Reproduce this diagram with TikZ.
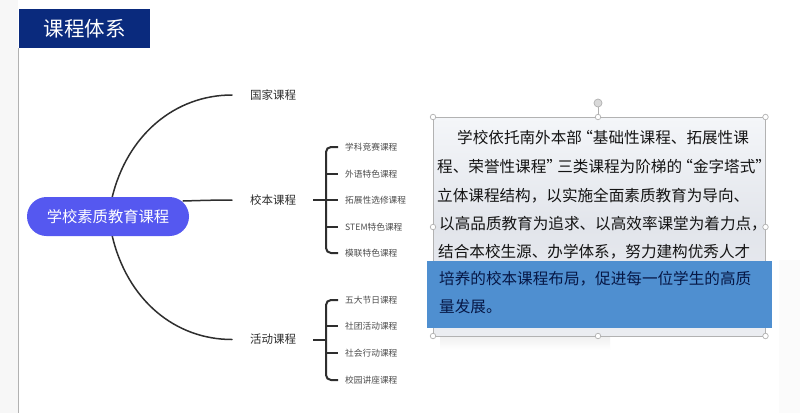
\documentclass[tikz,border=0pt]{standalone}
\usepackage{fontspec}
\setmainfont{Noto Sans CJK SC}
\usetikzlibrary{shapes.misc}
\definecolor{navy}{HTML}{0A2A7D}
\definecolor{pillc}{HTML}{5558F0}
\definecolor{inkc}{HTML}{2E2E2E}
\definecolor{boxblue}{HTML}{4F8FD0}
\definecolor{hand}{HTML}{B0B0B0}
\definecolor{boxtop}{HTML}{F4F6F9}
\definecolor{boxmid}{HTML}{E2E5EB}
\definecolor{boxbot}{HTML}{EBEDF1}
\newcommand{\lqm}{\hspace{-.3em}“}
\newcommand{\rqm}{”\hspace{-.3em}}
\tikzset{
  x=1pt,y=-1pt,
  lab/.style={inner sep=0pt,anchor=west,text=inkc,font=\fontsize{11.5}{12}\selectfont,text height=9.5pt,text depth=1.5pt},
  sub/.style={inner sep=0pt,anchor=west,text=inkc!85,font=\fontsize{8.7}{10}\selectfont,text height=7.2pt,text depth=1.2pt},
  para/.style={inner sep=0pt,anchor=west,text=black!92,font=\fontsize{15.6}{17}\selectfont,text height=13.5pt,text depth=2pt},
  parab/.style={para,text=black!45!navy},
  branch/.style={draw=inkc,line width=1.5pt,line cap=round},
  brack/.style={draw=inkc,line width=2pt,rounded corners=5pt},
  rh/.style={circle,draw=hand,fill=white,line width=.7pt,inner sep=0pt,minimum size=5.5pt},
}
\begin{document}
\begin{tikzpicture}
\useasboundingbox (0,0) rectangle (800,413);
\fill[white] (0,0) rectangle (800,413);
\fill[black!3] (0,0) rectangle (18,413);
\fill[black!1.5] (779,260) rectangle (800,413);
\draw[black!30,line width=.7pt] (18.5,48) -- (18.5,413);
% title
\node[fill=navy,minimum width=131pt,minimum height=39pt,inner sep=0pt,text=white,font=\fontsize{20.5}{22}\selectfont] (title) at (84.5,28.5) {\raisebox{1pt}{课程体系}};
% labels
\node[lab] (gj) at (250,95) {国家课程};
\node[lab] (xb) at (250,200) {校本课程};
\node[lab] (hd) at (250,339.5) {活动课程};
\node[sub] (a1) at (345,147) {学科竞赛课程};
\node[sub] (a2) at (345,174) {外语特色课程};
\node[sub] (a3) at (345,200) {拓展性选修课程};
\node[sub] (a4) at (345,227) {STEM特色课程};
\node[sub] (a5) at (345,253) {模联特色课程};
\node[sub] (b1) at (345,300) {五大节日课程};
\node[sub] (b2) at (345,326) {社团活动课程};
\node[sub] (b3) at (345,353) {社会行动课程};
\node[sub] (b4) at (345,380) {校园讲座课程};
\coordinate (ha) at (326,200);
\coordinate (hb) at (326,339.5);
% main branches
\coordinate (ptop) at (112,198);
\coordinate (pbot) at (112,235);
\coordinate (pmid) at (183,201);
\draw[branch,shorten >=18pt] (ptop) .. controls (127,135) and (175,95) .. (gj.west);
\draw[branch,shorten >=18pt] (pmid) .. controls (200,200.5) and (215,200) .. (xb.west);
\draw[branch,shorten >=18pt] (pbot) .. controls (127,300) and (175,339.5) .. (hd.west);
% pill
\node[rounded rectangle,fill=pillc,minimum width=162pt,minimum height=39pt,inner sep=0pt,text=white,font=\fontsize{15.3}{17}\selectfont] (pill) at (108,216.5) {学校素质教育课程};
% brackets
\draw[brack,line cap=butt,shorten <=17pt] (xb.east) -- (ha);
\draw[brack,line cap=butt,shorten <=17pt] (hd.east) -- (hb);
\draw[brack,shorten <=7pt,shorten >=7pt] (a1.west) -- (ha|-a1.west) -- (ha|-a5.west) -- (a5.west);
\draw[brack,shorten >=7pt] (ha|-a2.west) -- (a2.west);
\draw[brack,shorten >=7pt] (ha) -- (a3.west);
\draw[brack,shorten >=7pt] (ha|-a4.west) -- (a4.west);
\draw[brack,shorten <=7pt,shorten >=7pt] (b1.west) -- (hb|-b1.west) -- (hb|-b4.west) -- (b4.west);
\draw[brack,shorten >=7pt] (hb|-b2.west) -- (b2.west);
\draw[brack,shorten >=7pt] (hb|-b3.west) -- (b3.west);
% soft shadow under text box
\shade[top color=black!6,bottom color=white] (440,336) rectangle (610,350);
% text box
\shade[top color=boxtop,bottom color=boxbot,middle color=boxmid,draw=black!30,line width=.7pt] (433,117) rectangle (765.5,336);
\fill[boxblue] (426.5,261) rectangle (771.5,328);
% paragraph
\node[para] (p1) at (457,138) {学校依托南外本部\lqm 基础性课程、拓展性课};
\node[para] (p2) at (437,167) {程、荣誉性课程\rqm 三类课程为阶梯的\lqm 金字塔式\rqm};
\node[para] (p3) at (437,196) {立体课程结构，以实施全面素质教育为导向、};
\node[para] (p4) at (439,224) {以高品质教育为追求、以高效率课堂为着力点，};
\node[para] (p5) at (438,252) {结合本校生源、办学体系，努力建构优秀人才};
\node[parab] (p6) at (439,279) {培养的校本课程布局，促进每一位学生的高质};
\node[parab] (p7) at (439,307) {量发展。};
% handles
\node[rh,minimum size=8pt,fill=black!15] (rot) at (598,103) {};
\coordinate (topmid) at (598,117);
\draw[hand,line width=.7pt] (rot) -- (topmid);
\foreach \n/\px/\py in {h1/433/117,h2/598/117,h3/765.5/117,h4/433/227,h5/765.5/227,h6/433/336,h7/598/336,h8/765.5/336}
  \node[rh] (\n) at (\px,\py) {};
\end{tikzpicture}
\end{document}
